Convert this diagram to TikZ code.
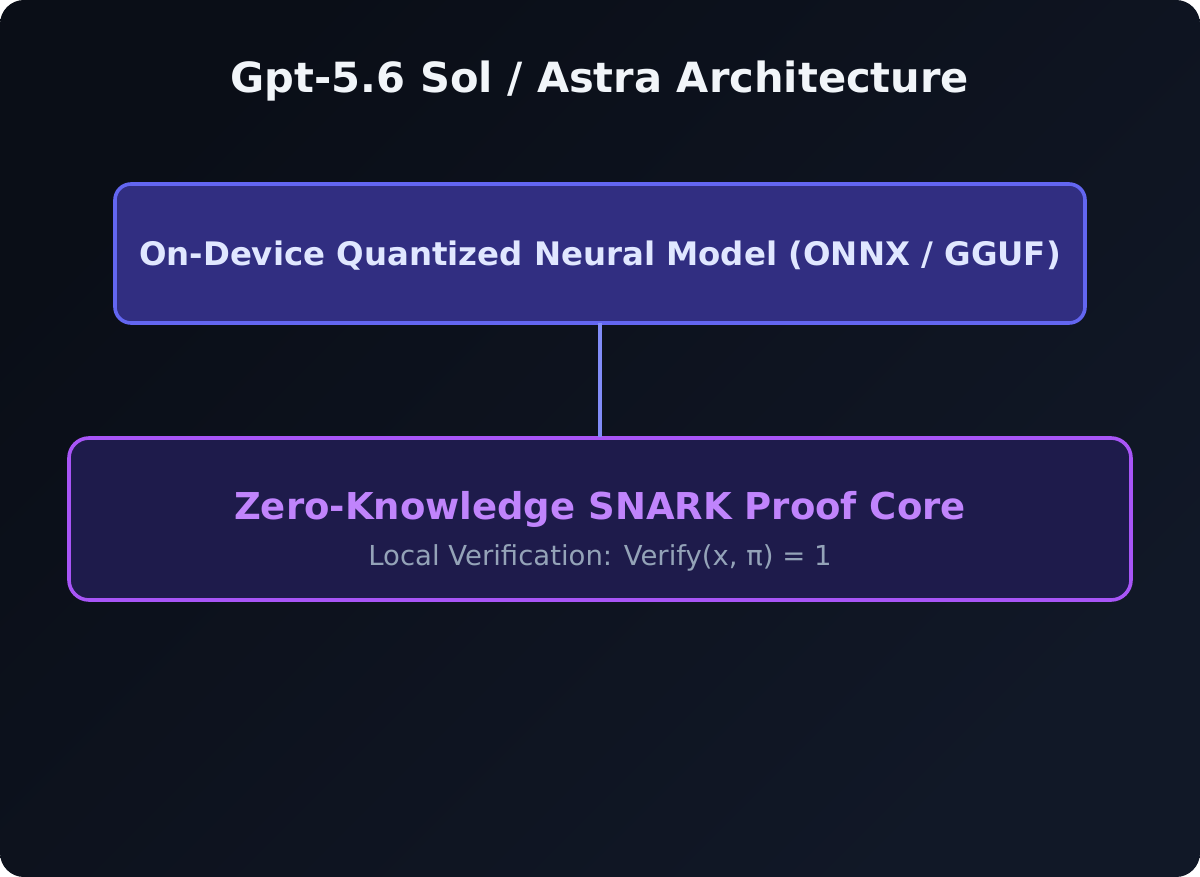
\documentclass[tikz,border=0pt]{standalone}
\usepackage{fontspec}
\setmainfont{DejaVu Sans}
\definecolor{bgA}{HTML}{0A0E17}
\definecolor{bgB}{HTML}{111827}
\definecolor{boxAfill}{HTML}{312E81}
\definecolor{boxAline}{HTML}{6366F1}
\definecolor{boxAtext}{HTML}{E0E7FF}
\definecolor{boxBfill}{HTML}{1E1B4B}
\definecolor{boxBline}{HTML}{A855F7}
\definecolor{boxBtext}{HTML}{C084FC}
\definecolor{subtext}{HTML}{94A3B8}
\definecolor{linkcol}{HTML}{818CF8}
\definecolor{titlecol}{HTML}{F1F5F9}
\tikzset{
  modelbox/.style={draw=boxAline, fill=boxAfill, line width=3.6pt, rounded corners=16pt},
  proofbox/.style={draw=boxBline, fill=boxBfill, line width=3.6pt, rounded corners=20pt},
  link/.style={draw=linkcol, line width=4.5pt},
}
\begin{document}
\begin{tikzpicture}[x=1pt,y=-1pt]
\useasboundingbox (0,0) rectangle (1200,877);
\fill[white] (0,0) rectangle (1200,877);
\shade[rounded corners=24pt, left color=bgA, right color=bgB, shading angle=45] (0,0) rectangle (1200,877);
\node[text=titlecol, font=\bfseries\fontsize{41.6}{48}\selectfont] (title) at (600,81) {Gpt-5.6 Sol / Astra Architecture};
\draw[modelbox] (115,184) rectangle (1085,323);
\coordinate (mtop) at (600,323);
\node[text=boxAtext, font=\bfseries\fontsize{32.4}{38}\selectfont] (model) at (600,256) {On-Device Quantized Neural Model (ONNX / GGUF)};
\draw[proofbox] (69,438) rectangle (1131,600);
\coordinate (ptop) at (600,437);
\node[text=boxBtext, font=\bfseries\fontsize{37}{44}\selectfont] (proof) at (600,509) {Zero-Knowledge SNARK Proof Core};
\node[text=subtext, font=\fontsize{27.5}{32}\selectfont] (verify) at (600,558) {Local Verification: Verify(x, π) = 1};
\draw[link] (mtop) -- (ptop);
\end{tikzpicture}
\end{document}
